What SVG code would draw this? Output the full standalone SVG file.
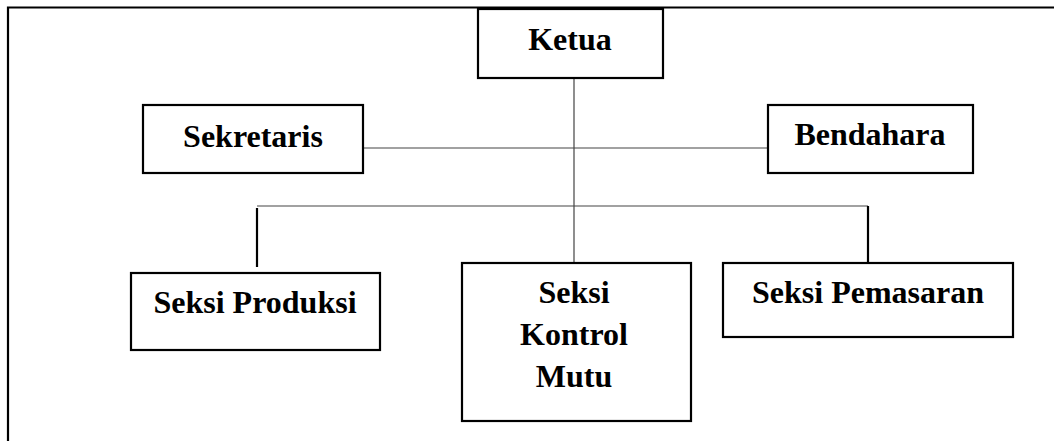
<svg xmlns="http://www.w3.org/2000/svg" width="1054" height="441" viewBox="0 0 1054 441">
<style>
.box{fill:#fff;stroke:#000;stroke-width:2.2}
.t{font-family:'Liberation Serif','Tinos','Times New Roman','DejaVu Serif',serif;font-weight:700;font-size:32px;fill:#000;text-anchor:middle}
.thin{stroke:#444;stroke-width:1.2;fill:none}
.thick{stroke:#000;stroke-width:2.2;fill:none}
</style>
<rect width="1054" height="441" fill="#fff"/>
<g id="frame">
<path d="M8 441 V7.5 H1054" class="thick"/>
</g>
<g id="connectors">
<line x1="574" y1="78" x2="574" y2="263" class="thin"/>
<line x1="363" y1="148" x2="768" y2="148" class="thin"/>
<line x1="257" y1="206" x2="868" y2="206" class="thin"/>
<line x1="257" y1="208" x2="257" y2="267" class="thick"/>
<line x1="868" y1="206" x2="868" y2="263" class="thick"/>
</g>
<g id="ketua">
<rect x="478" y="9" width="185" height="69" class="box"/>
<text x="570" y="50" class="t">Ketua</text>
</g>
<g id="sekretaris">
<rect x="143" y="105" width="220" height="68" class="box"/>
<text x="253" y="147" class="t">Sekretaris</text>
</g>
<g id="bendahara">
<rect x="768" y="105" width="205" height="68" class="box"/>
<text x="870" y="145" class="t">Bendahara</text>
</g>
<g id="produksi">
<rect x="131" y="273" width="249" height="77" class="box"/>
<text x="255" y="313" class="t">Seksi Produksi</text>
</g>
<g id="kontrol">
<rect x="462" y="263" width="229" height="158" class="box"/>
<text x="574" y="303" class="t">Seksi</text>
<text x="574" y="345" class="t">Kontrol</text>
<text x="574" y="387" class="t">Mutu</text>
</g>
<g id="pemasaran">
<rect x="723" y="263" width="290" height="74" class="box"/>
<text x="868" y="303" class="t">Seksi Pemasaran</text>
</g>
</svg>
